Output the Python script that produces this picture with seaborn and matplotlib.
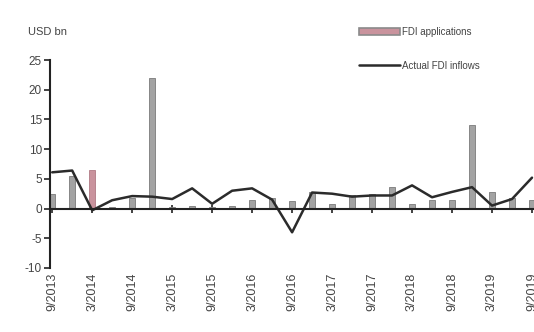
import numpy as np
import pandas as pd
import seaborn as sns
import matplotlib.pyplot as plt
from matplotlib.patches import Patch
from matplotlib.lines import Line2D

# quarterly data, 9/2013 .. 9/2019
quarters = ["9/2013", "12/2013", "3/2014", "6/2014", "9/2014", "12/2014",
            "3/2015", "6/2015", "9/2015", "12/2015", "3/2016", "6/2016",
            "9/2016", "12/2016", "3/2017", "6/2017", "9/2017", "12/2017",
            "3/2018", "6/2018", "9/2018", "12/2018", "3/2019", "6/2019", "9/2019"]
fdi_applications = [2.5, 5.5, 6.5, 0.3, 1.8, 22.0, 0.3, 0.5, 0.3, 0.5, 1.5, 1.8,
                    1.3, 2.8, 0.8, 2.2, 2.4, 3.6, 0.8, 1.5, 1.5, 14.0, 2.8, 1.8, 1.5]
fdi_inflows = [6.1, 6.4, -0.3, 1.4, 2.1, 2.0, 1.6, 3.4, 0.8, 3.0, 3.4, 1.5,
               -4.0, 2.7, 2.5, 2.0, 2.2, 2.2, 3.9, 1.9, 2.8, 3.6, 0.5, 1.6, 5.2]
tick_labels = quarters[::2]

df = pd.DataFrame({"quarter": quarters, "apps": fdi_applications, "inflows": fdi_inflows})

sns.set_style("white")
plt.rcParams["font.family"] = ["Liberation Sans", "DejaVu Sans"]
plt.rcParams["axes.unicode_minus"] = False

fig = plt.figure(figsize=(5.34, 3.32), dpi=100)
ax = fig.add_axes([0.094, 0.193, 0.906, 0.626])

bar_grey = "#a3a3a3"
pink = "#c9939d"
sns.barplot(data=df, x="quarter", y="apps", color=bar_grey, width=0.3,
            edgecolor="#7a7a7a", linewidth=0.6, ax=ax, saturation=1)
ax.patches[2].set_facecolor(pink)
ax.patches[2].set_edgecolor("#b07a85")

sns.lineplot(x=np.arange(len(quarters)), y=df["inflows"], color="#2b2b2b",
             linewidth=1.8, ax=ax)

ax.set_xlim(-0.1, 24.1)
ax.set_ylim(-10, 25)
ax.set_yticks([-10, -5, 0, 5, 10, 15, 20, 25])
ax.set_xticks(np.arange(0, len(quarters), 2))
ax.set_xticklabels(tick_labels)
ax.set_xlabel("")
ax.set_ylabel("")

for s in ["top", "right"]:
    ax.spines[s].set_visible(False)
ax.spines["left"].set_color("#222222")
ax.spines["left"].set_linewidth(1.5)
ax.spines["bottom"].set_position(("data", 0))
ax.spines["bottom"].set_color("#222222")
ax.spines["bottom"].set_linewidth(1.5)

ax.tick_params(axis="y", left=True, length=4, width=1.2, color="#222222",
               labelsize=8.5, labelcolor="#444444", pad=2)
ax.tick_params(axis="x", bottom=True, direction="inout", length=6, width=1.2,
               color="#222222", pad=43, labelrotation=90, labelsize=9,
               labelcolor="#444444")

fig.text(0.052, 0.895, "USD bn", fontsize=8, color="#444444")

handles = [Patch(facecolor=pink, edgecolor="#8a8a8a", linewidth=1.2),
           Line2D([0], [0], color="#2b2b2b", linewidth=1.8)]
ax.legend(handles, ["FDI applications", "Actual FDI inflows"], frameon=False,
          fontsize=7, loc="upper left", bbox_to_anchor=(0.62, 1.2),
          handlelength=4.2, handletextpad=0.2, labelspacing=2.4,
          labelcolor="#444444")

fig.savefig("out.png", dpi=100)
